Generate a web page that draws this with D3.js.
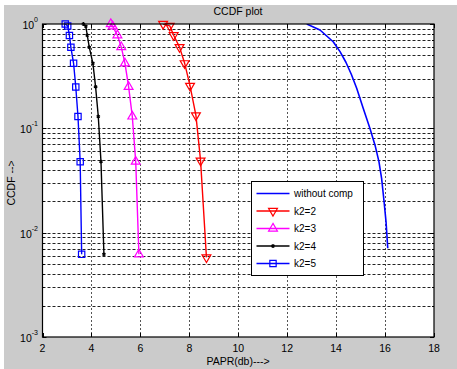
<!DOCTYPE html>
<html>
<head>
<meta charset="utf-8">
<script src="https://cdn.jsdelivr.net/npm/d3@7"></script>
<style>
  html, body { margin: 0; padding: 0; background: #ffffff; }
  svg { display: block; font-family: "Liberation Sans", Arial, sans-serif; }
</style>
</head>
<body>
<svg id="chart" width="457" height="369"></svg>
<script>
// PAPR (dB) thresholds and CCDF values for each curve
const withoutCompX = [12.80, 13.34, 13.88, 14.16, 14.40, 14.62, 14.84, 15.11, 15.38, 15.59, 15.75, 15.86, 15.96, 16.04, 16.11];
const withoutCompY = [1.0, 0.876, 0.676, 0.543, 0.43, 0.33, 0.242, 0.155, 0.10, 0.069, 0.048, 0.033, 0.0198, 0.0127, 0.0071];

const k2_2X = [6.93, 7.20, 7.36, 7.60, 7.81, 8.03, 8.27, 8.46, 8.70];
const k2_2Y = [1.0, 0.96, 0.78, 0.60, 0.42, 0.255, 0.133, 0.049, 0.0058];

const k2_3X = [4.79, 4.87, 5.06, 5.22, 5.37, 5.52, 5.67, 5.81, 5.94];
const k2_3Y = [1.0, 0.95, 0.78, 0.60, 0.42, 0.25, 0.13, 0.048, 0.0062];

const k2_4X = [3.67, 3.77, 3.83, 3.91, 4.06, 4.17, 4.28, 4.39, 4.51];
const k2_4Y = [1.0, 0.95, 0.78, 0.60, 0.42, 0.25, 0.13, 0.048, 0.0062];

const k2_5X = [2.93, 3.03, 3.10, 3.16, 3.27, 3.36, 3.45, 3.54, 3.60];
const k2_5Y = [1.0, 0.957, 0.776, 0.598, 0.42, 0.249, 0.13, 0.0478, 0.0062];

const seriesNames = ["without comp", "k2=2", "k2=3", "k2=4", "k2=5"];
const xTicks = [2, 4, 6, 8, 10, 12, 14, 16, 18];
const yTickExponents = [0, -1, -2, -3];

const titleText = "CCDF plot";
const xLabelText = "PAPR(db)--->";
const yLabelText = "CCDF -->";

const series = [
  { name: seriesNames[0], xs: withoutCompX, ys: withoutCompY, color: "#0000ff", marker: null, width: 1.6 },
  { name: seriesNames[1], xs: k2_2X, ys: k2_2Y, color: "#ff0000", marker: "down", width: 1.4 },
  { name: seriesNames[2], xs: k2_3X, ys: k2_3Y, color: "#ff00ff", marker: "up", width: 1.4 },
  { name: seriesNames[3], xs: k2_4X, ys: k2_4Y, color: "#000000", marker: "star", width: 1.4 },
  { name: seriesNames[4], xs: k2_5X, ys: k2_5Y, color: "#0000ff", marker: "square", width: 1.4 }
];

const svg = d3.select("#chart");
const W = 457, H = 369;
const plot = { left: 42.5, right: 434, top: 24, bottom: 337 };

// figure background
svg.append("rect").attr("x", 4).attr("y", 5).attr("width", W - 4).attr("height", H - 5).attr("fill", "#cbcbcb");

const x = d3.scaleLinear().domain([2, 18]).range([plot.left, plot.right]);
const y = d3.scaleLog().domain([1e-3, 1]).range([plot.bottom, plot.top]);

// axes area
svg.append("rect")
  .attr("x", plot.left).attr("y", plot.top)
  .attr("width", plot.right - plot.left).attr("height", plot.bottom - plot.top)
  .attr("fill", "#ffffff");

svg.append("clipPath").attr("id", "plotClip")
  .append("rect")
  .attr("x", plot.left).attr("y", plot.top)
  .attr("width", plot.right - plot.left).attr("height", plot.bottom - plot.top);

// grid lines
const grid = svg.append("g");
const innerX = xTicks.filter(v => v > 2 && v < 18);
grid.selectAll("line.vx").data(innerX).enter().append("line")
  .attr("x1", d => Math.round(x(d)) + 0.5).attr("x2", d => Math.round(x(d)) + 0.5)
  .attr("y1", plot.top).attr("y2", plot.bottom)
  .attr("stroke", "#555").attr("stroke-width", 1).attr("stroke-dasharray", "2,2");

const logLevels = [];
for (let e = -3; e < 0; e++) {
  for (let m = 1; m <= 9; m++) {
    const v = m * Math.pow(10, e);
    if (v > 1e-3 && v < 1) logLevels.push(v);
  }
}
grid.selectAll("line.hy").data(logLevels).enter().append("line")
  .attr("x1", plot.left).attr("x2", plot.right)
  .attr("y1", d => Math.round(y(d)) + 0.5).attr("y2", d => Math.round(y(d)) + 0.5)
  .attr("stroke", "#222").attr("stroke-width", 1).attr("stroke-dasharray", "3,2");

// ticks (inward, on all four sides)
const ticks = svg.append("g").attr("stroke", "#000").attr("stroke-width", 1);
xTicks.forEach(v => {
  const px = Math.round(x(v)) + 0.5;
  ticks.append("line").attr("x1", px).attr("x2", px).attr("y1", plot.bottom).attr("y2", plot.bottom - 4);
  ticks.append("line").attr("x1", px).attr("x2", px).attr("y1", plot.top).attr("y2", plot.top + 4);
});
yTickExponents.forEach(e => {
  const py = Math.round(y(Math.pow(10, e))) + 0.5;
  ticks.append("line").attr("x1", plot.left).attr("x2", plot.left + 4).attr("y1", py).attr("y2", py);
  ticks.append("line").attr("x1", plot.right).attr("x2", plot.right - 4).attr("y1", py).attr("y2", py);
});
logLevels.forEach(v => {
  const py = Math.round(y(v)) + 0.5;
  ticks.append("line").attr("x1", plot.left).attr("x2", plot.left + 2).attr("y1", py).attr("y2", py);
  ticks.append("line").attr("x1", plot.right).attr("x2", plot.right - 2).attr("y1", py).attr("y2", py);
});

// tick labels
svg.append("g").selectAll("text").data(xTicks).enter().append("text")
  .attr("x", d => x(d)).attr("y", 351.5)
  .attr("text-anchor", "middle").attr("font-size", 10.5).attr("fill", "#000")
  .text(d => d);

const yLab = svg.append("g").selectAll("text").data(yTickExponents).enter().append("text")
  .attr("x", 38).attr("y", d => y(Math.pow(10, d)) + 5)
  .attr("text-anchor", "end").attr("font-size", 10.5).attr("fill", "#000");
yLab.append("tspan").text("10");
yLab.append("tspan").attr("dy", -7).attr("font-size", 7).text(d => d);

// line + marker series
const line = d3.line().x(d => x(d[0])).y(d => y(d[1]));
const markerShape = {
  down: d3.symbol().type(d3.symbolTriangle).size(34),
  up: d3.symbol().type(d3.symbolTriangle).size(34),
  square: d3.symbol().type(d3.symbolSquare).size(40),
  star: d3.symbol().type(d3.symbolAsterisk).size(10)
};

const dataLayer = svg.append("g").attr("clip-path", "url(#plotClip)");
series.forEach(s => {
  const pts = s.xs.map((v, i) => [v, s.ys[i]]);
  dataLayer.append("path").datum(pts)
    .attr("d", line).attr("fill", "none")
    .attr("stroke", s.color).attr("stroke-width", s.width).attr("stroke-linejoin", "round");
});

const markerLayer = svg.append("g");
function drawMarker(g, kind, cx, cy, color) {
  if (!kind) return;
  const rot = kind === "down" ? 180 : 0;
  g.append("path")
    .attr("d", markerShape[kind]())
    .attr("transform", `translate(${cx},${cy}) rotate(${rot})`)
    .attr("fill", "none").attr("stroke", color)
    .attr("stroke-width", kind === "star" ? 1.3 : 1.2);
}
series.forEach(s => {
  s.xs.forEach((v, i) => drawMarker(markerLayer, s.marker, x(v), y(s.ys[i]), s.color));
});

// axes box
svg.append("rect")
  .attr("x", plot.left).attr("y", plot.top)
  .attr("width", plot.right - plot.left).attr("height", plot.bottom - plot.top)
  .attr("fill", "none").attr("stroke", "#000").attr("stroke-width", 1.2);

// legend
const legend = { x: 251.5, y: 181.5, w: 112, h: 94, rowH: 17.5, firstRow: 193.5 };
svg.append("rect")
  .attr("x", legend.x).attr("y", legend.y).attr("width", legend.w).attr("height", legend.h)
  .attr("fill", "#ffffff").attr("stroke", "#000").attr("stroke-width", 1);
series.forEach((s, i) => {
  const ry = legend.firstRow + i * legend.rowH;
  svg.append("line")
    .attr("x1", legend.x + 5).attr("x2", legend.x + 38).attr("y1", ry).attr("y2", ry)
    .attr("stroke", s.color).attr("stroke-width", s.width);
  drawMarker(svg, s.marker, legend.x + 21.5, ry, s.color);
  svg.append("text")
    .attr("x", legend.x + 42.5).attr("y", ry + 3.8)
    .attr("font-size", 10).attr("fill", "#000")
    .text(s.name);
});

// title and axis labels
svg.append("text").attr("x", 238).attr("y", 14.5).attr("text-anchor", "middle")
  .attr("font-size", 10.5).attr("fill", "#000").text(titleText);
svg.append("text").attr("x", 238).attr("y", 365).attr("text-anchor", "middle")
  .attr("font-size", 10.5).attr("fill", "#000").text(xLabelText);
svg.append("text").attr("transform", "translate(15,183) rotate(-90)")
  .attr("text-anchor", "middle").attr("font-size", 10.5).attr("fill", "#000").text(yLabelText);
</script>
</body>
</html>
